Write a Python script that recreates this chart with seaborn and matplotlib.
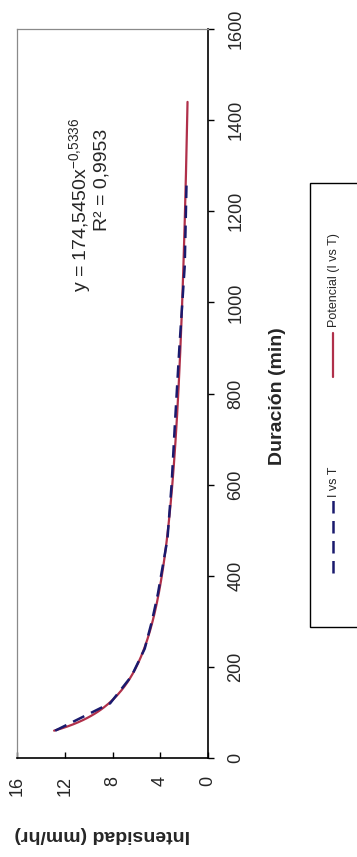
import numpy as np
import pandas as pd
import seaborn as sns
import matplotlib
matplotlib.use("Agg")
import matplotlib.pyplot as plt
from matplotlib.lines import Line2D
from matplotlib.patches import Rectangle

# Intensity–duration data (I vs T)
duration_min = [60, 120, 180, 240, 300, 360, 480, 600, 720, 900, 1080, 1260]
intensity_mmhr = [12.8, 8.2, 6.4, 5.3, 4.7, 4.2, 3.4, 3.05, 2.8, 2.4, 1.95, 1.8]
trend_end_min = 1440

duration_ticks = [0, 200, 400, 600, 800, 1000, 1200, 1400, 1600]
intensity_ticks = [0, 4, 8, 12, 16]

x_title = "Duración (min)"
y_title = "Intensidad (mm/hr)"
series_name = "I vs T"
trend_name = "Potencial (I vs T)"
eq_line1 = r"y = 174,5450x$^{\mathrm{-0{,}5336}}$"
eq_line2 = "R² = 0,9953"

navy = "#1a1a6e"
trend_red = "#b0304a"

sns.set_theme(style="white")
plt.rcParams["font.family"] = ["Liberation Sans", "DejaVu Sans"]
plt.rcParams["mathtext.fontset"] = "custom"
plt.rcParams["mathtext.rm"] = "Liberation Sans"
plt.rcParams["mathtext.it"] = "Liberation Sans"

W, H = 357, 857
fig = plt.figure(figsize=(W / 100, H / 100), dpi=100)
fig.patch.set_facecolor("white")


def fx(px):
    return px / W


def fy(py):
    return 1 - py / H


# Plot area (the chart is laid out turned a quarter-turn)
ax = fig.add_axes([fx(17), fy(758), fx(208) - fx(17), fy(29) - fy(758)])
ax.set_facecolor("white")

df = pd.DataFrame({"Duración": duration_min, "Intensidad": intensity_mmhr})

# Power-law trendline fitted in log–log space
slope, intercept = np.polyfit(np.log(df["Duración"]), np.log(df["Intensidad"]), 1)
t_fit = np.linspace(duration_min[0], trend_end_min, 300)
fit_df = pd.DataFrame({"Duración": t_fit,
                       "Intensidad": np.exp(intercept) * t_fit ** slope})

sns.lineplot(data=fit_df, x="Intensidad", y="Duración", orient="y",
             estimator=None, color=trend_red, lw=1.6, ax=ax)
sns.lineplot(data=df, x="Intensidad", y="Duración", orient="y",
             estimator=None, color=navy, lw=1.8, ls=(0, (5, 3)), ax=ax)

ax.set_xlim(16, 0)
ax.set_ylim(0, 1600)
ax.set_xlabel("")
ax.set_ylabel("")

ax.set_xticks(intensity_ticks)
ax.set_xticklabels([str(v) for v in intensity_ticks])
ax.yaxis.tick_right()
ax.set_yticks(duration_ticks)
ax.set_yticklabels([str(v) for v in duration_ticks])

ax.tick_params(axis="x", bottom=True, direction="in", length=4, width=1,
               color="black", pad=13, labelsize=13, labelrotation=90)
ax.tick_params(axis="y", right=True, left=False, direction="out", length=4,
               width=1, color="black", pad=10, labelsize=13, labelrotation=90)
for lab in ax.get_yticklabels():
    lab.set_va("center")

for side in ("right", "bottom"):
    ax.spines[side].set_color("black")
    ax.spines[side].set_linewidth(1.2)
for side in ("top", "left"):
    ax.spines[side].set_color("#8a8a8a")
    ax.spines[side].set_linewidth(0.9)

# Axis titles
fig.text(fx(277), fy(396), x_title, rotation=90, ha="center", va="center",
         fontsize=14, fontweight="bold")
fig.text(fx(102), fy(835), y_title, rotation=180, ha="center", va="center",
         fontsize=14, fontweight="bold")

# Trendline equation
fig.text(fx(80), fy(205), eq_line1, rotation=90, ha="center", va="center",
         fontsize=14)
fig.text(fx(102), fy(180), eq_line2, rotation=90, ha="center", va="center",
         fontsize=14)

# Legend box
fig.add_artist(Rectangle((fx(310), fy(627)), fx(360) - fx(310), fy(183) - fy(627),
                         transform=fig.transFigure, facecolor="white",
                         edgecolor="black", lw=1.0))
fig.add_artist(Line2D([fx(333), fx(333)], [fy(573), fy(500)],
                      transform=fig.transFigure, color=navy, lw=1.8,
                      ls=(0, (5, 3))))
fig.text(fx(334), fy(482), series_name, rotation=90, ha="center", va="center",
         fontsize=9)
fig.add_artist(Line2D([fx(333), fx(333)], [fy(377), fy(333)],
                      transform=fig.transFigure, color=trend_red, lw=1.6))
fig.text(fx(334), fy(280), trend_name, rotation=90, ha="center", va="center",
         fontsize=9)

fig.savefig("out.png", dpi=100, facecolor="white")
